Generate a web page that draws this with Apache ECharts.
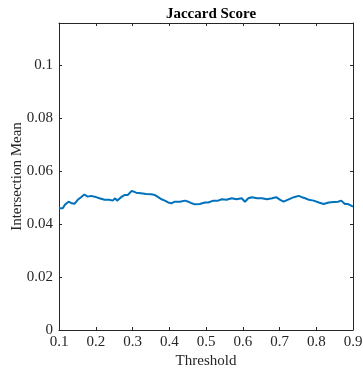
<!DOCTYPE html>
<html><head><meta charset="utf-8">
<script src="https://cdn.jsdelivr.net/npm/echarts@6/dist/echarts.min.js"></script>
<style>html,body{margin:0;padding:0;background:#fff}#c{width:363px;height:373px}</style>
</head><body><div id="c"></div>
<script>
const thresholds = [0.100,0.110,0.116,0.126,0.135,0.142,0.151,0.160,0.169,0.178,0.187,0.197,0.210,0.224,0.237,0.246,0.253,0.258,0.269,0.278,0.287,0.298,0.310,0.323,0.337,0.351,0.361,0.370,0.379,0.388,0.397,0.406,0.415,0.429,0.443,0.452,0.461,0.470,0.483,0.497,0.506,0.520,0.533,0.543,0.556,0.570,0.583,0.597,0.606,0.615,0.625,0.639,0.652,0.666,0.680,0.691,0.702,0.711,0.725,0.739,0.752,0.761,0.770,0.780,0.793,0.807,0.820,0.834,0.848,0.859,0.868,0.878,0.887,0.896,0.900];
const intersectionMean = [0.0459,0.0459,0.0472,0.0484,0.0478,0.0476,0.0491,0.0501,0.0511,0.0503,0.0506,0.0503,0.0497,0.0491,0.0491,0.0488,0.0497,0.0488,0.0501,0.0509,0.0509,0.0525,0.0518,0.0516,0.0513,0.0512,0.0509,0.0501,0.0493,0.0488,0.0481,0.0478,0.0484,0.0484,0.0488,0.0484,0.0478,0.0474,0.0475,0.0481,0.0481,0.0488,0.0488,0.0493,0.0491,0.0497,0.0493,0.0497,0.0484,0.0497,0.0501,0.0497,0.0497,0.0493,0.0497,0.0501,0.0491,0.0484,0.0493,0.0501,0.0506,0.0501,0.0497,0.0491,0.0488,0.0481,0.0475,0.0481,0.0483,0.0484,0.0488,0.0475,0.0475,0.0468,0.0466];
const titleText = 'Jaccard Score';
const xName = 'Threshold';
const yName = 'Intersection Mean';

const font = 'Liberation Serif, Times New Roman, serif';
const axisCol = '#262626';
const fs = 15;
const chart = echarts.init(document.getElementById('c'), null, {renderer:'canvas'});
const lineStyle = {color: axisCol, width: 1};
chart.setOption({
  animation: false,
  title: {text: titleText, left: 206, top: 2, textAlign: 'center',
    textStyle: {fontFamily: font, fontWeight: 'bold', fontSize: fs, color: '#000'}},
  grid: {left: 59, right: 10, top: 23, bottom: 43, containLabel: false, outerBoundsMode: 'none'},
  xAxis: [{
    type: 'value', min: 0.1, max: 0.9, interval: 0.1,
    name: xName, nameLocation: 'middle', nameGap: 24, nameMoveOverlap: false,
    nameTextStyle: {fontFamily: font, fontSize: fs, color: axisCol},
    axisLine: {show: true, onZero: false, lineStyle},
    axisTick: {show: true, inside: true, length: 3, lineStyle},
    axisLabel: {fontFamily: font, fontSize: fs, color: axisCol, margin: 5},
    splitLine: {show: false}
  }, {
    type: 'value', min: 0.1, max: 0.9, interval: 0.1, position: 'top',
    axisLine: {show: true, onZero: false, lineStyle},
    axisTick: {show: true, inside: true, length: 3, lineStyle},
    axisLabel: {show: false}, splitLine: {show: false}
  }],
  yAxis: [{
    type: 'value', min: 0, max: 0.1158, interval: 0.02,
    name: yName, nameLocation: 'middle', nameGap: 34, nameMoveOverlap: false,
    nameTextStyle: {fontFamily: font, fontSize: fs, color: axisCol},
    axisLine: {show: true, onZero: false, lineStyle},
    axisTick: {show: true, inside: true, length: 3, lineStyle},
    axisLabel: {fontFamily: font, fontSize: fs, color: axisCol, margin: 6, showMaxLabel: false},
    splitLine: {show: false}
  }, {
    type: 'value', min: 0, max: 0.1158, interval: 0.02, position: 'right',
    axisLine: {show: true, onZero: false, lineStyle},
    axisTick: {show: true, inside: true, length: 3, lineStyle},
    axisLabel: {show: false}, splitLine: {show: false}
  }],
  series: [{
    type: 'line', showSymbol: false,
    data: thresholds.map((t, i) => [t, intersectionMean[i]]),
    lineStyle: {color: '#0072BD', width: 2},
    itemStyle: {color: '#0072BD'}
  }]
});
</script></body></html>
